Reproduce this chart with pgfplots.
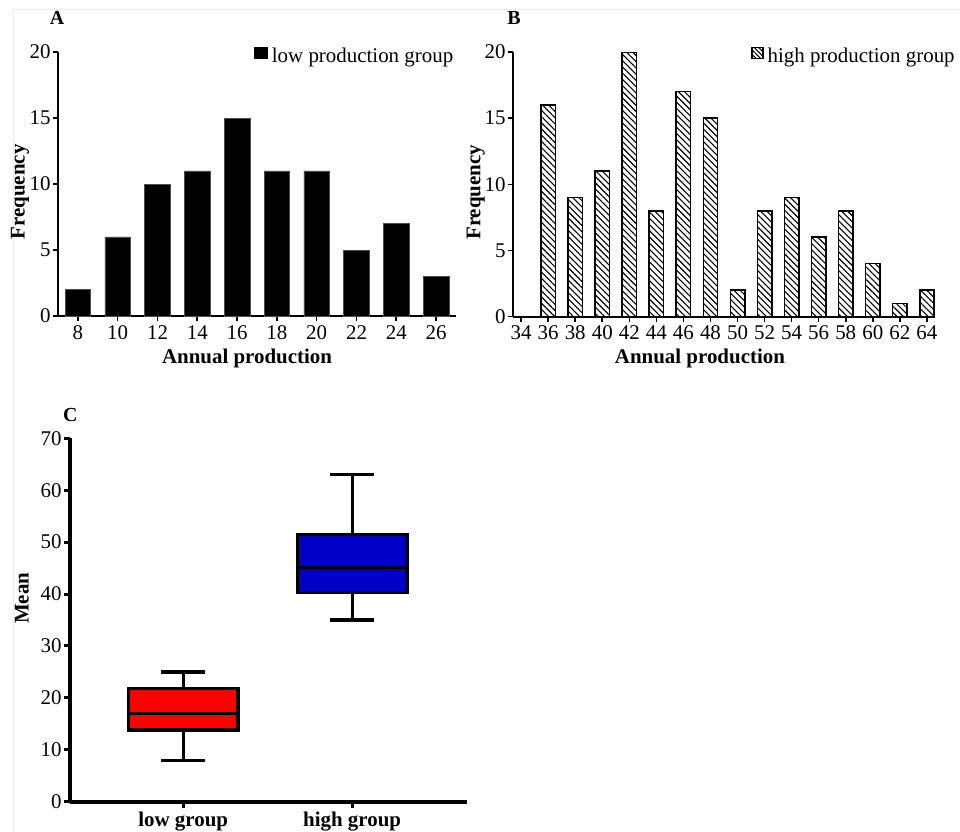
\documentclass[border=0pt]{standalone}
\usepackage{pgfplots}
\pgfplotsset{compat=1.18}
\usepgfplotslibrary{statistics}
\usetikzlibrary{patterns.meta}
\usepackage{fontspec}
\setmainfont{Liberation Serif}

\newcommand{\txt}{\fontsize{10.5}{12}\selectfont}

\pgfplotsset{
  histo/.style={
    scale only axis,
    axis lines=left,
    axis line style={-, line width=1bp},
    tick align=outside,
    major tick length=2.5bp,
    tick style={line width=0.8bp, black},
    ymin=0, ymax=20, ytick={0,5,...,20},
    ybar,
    font=\txt,
    tick label style={font=\txt},
    /pgf/number format/assume math mode=true,
    label style={font=\txt\bfseries},
    yticklabel style={inner sep=1bp},
    xticklabel style={inner sep=2bp},
    ylabel style={anchor=center},
    xlabel style={anchor=center},
    legend style={draw=none, fill=none, inner sep=0pt, font=\txt, legend cell align=left},
  }
}

\begin{document}
\begin{tikzpicture}
\useasboundingbox (0,0) rectangle (480bp,-416bp);
\draw[black!8, line width=0.5bp] (6.5bp,-416bp) -- (6.5bp,-4.5bp) -- (480bp,-4.5bp);

% panel A
\begin{axis}[histo,
  at={(29bp,-158bp)}, anchor=south west,
  width=199bp, height=132bp,
  xmin=7, xmax=27, xtick={8,10,...,26},
  bar width=1.29,
  ylabel={Frequency}, xlabel={Annual production},
  ylabel style={at={(axis description cs:-0.0955,0.47)}},
  xlabel style={at={(axis description cs:0.475,-0.16)}},
  legend style={at={(axis description cs:1.004,1.03)}, anchor=north east},
  legend image code/.code={\fill[black] (-1.5bp,-0.5bp) rectangle (5bp,5bp);},
]
\addplot[fill=black, draw=black!70, line width=0.3bp] coordinates {
 (8,2) (10,6) (12,10) (14,11) (16,15) (18,11) (20,11) (22,5) (24,7) (26,3)};
\addlegendentry{low production group}
\end{axis}

% panel B
\begin{axis}[histo,
  at={(256.5bp,-158.3bp)}, anchor=south west,
  width=211bp, height=132.3bp,
  xmin=33.4, xmax=64.6, xtick={34,36,...,64},
  bar width=1.06,
  ylabel={Frequency}, xlabel={Annual production},
  ylabel style={at={(axis description cs:-0.088,0.47)}},
  xlabel style={at={(axis description cs:0.443,-0.16)}},
  legend style={at={(axis description cs:1.057,1.03)}, anchor=north east},
  legend image code/.code={\draw[black, line width=0.6bp, pattern={Lines[angle=-45,distance=1.6bp,line width=0.5bp]}] (0bp,-0.5bp) rectangle (5.5bp,5bp);},
]
\addplot[draw=black, line width=0.8bp,
  pattern={Lines[angle=-45,distance=2.2bp,line width=0.55bp]}] coordinates {
 (36,16) (38,9) (40,11) (42,20) (44,8) (46,17) (48,15) (50,2)
 (52,8) (54,9) (56,6) (58,8) (60,4) (62,1) (64,2)};
\addlegendentry{high production group}
\end{axis}

% panel C
\begin{axis}[
  at={(35bp,-400.85bp)}, anchor=south west,
  scale only axis, width=198.5bp, height=181.7bp,
  axis lines=left,
  axis line style={-, line width=1.8bp},
  tick align=outside,
  major tick length=3bp,
  tick style={line width=1.5bp, black},
  xmin=0.33, xmax=2.68, ymin=0, ymax=70,
  ytick={0,10,...,70},
  xtick={1,2}, xticklabels={low group, high group},
  /pgf/number format/assume math mode=true,
  yticklabel style={font=\txt, inner sep=1bp},
  xticklabel style={font=\txt\bfseries, inner sep=2bp},
  ylabel={Mean},
  ylabel style={font=\txt\bfseries, anchor=center, at={(axis description cs:-0.121,0.56)}},
  boxplot/draw direction=y,
]
\addplot[boxplot prepared={lower whisker=8, lower quartile=13.8, median=17,
  upper quartile=21.8, upper whisker=25, draw position=1,
  box extend=0.65, whisker extend=0.26},
  solid, fill=red, draw=black, line width=1.6bp,
  mark options={opacity=0}, every mark/.append style={opacity=0}] coordinates {(1,17)};
\addplot[boxplot prepared={lower whisker=35, lower quartile=40.3, median=45.1,
  upper quartile=51.4, upper whisker=63.1, draw position=2,
  box extend=0.65, whisker extend=0.26},
  solid, fill={rgb,255:red,0;green,0;blue,200}, draw=black, line width=1.6bp,
  mark options={opacity=0}, every mark/.append style={opacity=0}] coordinates {(2,45.1)};
\end{axis}

\node[font=\fontsize{10}{11}\selectfont\bfseries] at (28.5bp,-9.2bp) {A};
\node[font=\fontsize{10}{11}\selectfont\bfseries] at (257bp,-8.8bp) {B};
\node[font=\fontsize{10}{11}\selectfont\bfseries] at (35.2bp,-207.5bp) {C};
\end{tikzpicture}
\end{document}
